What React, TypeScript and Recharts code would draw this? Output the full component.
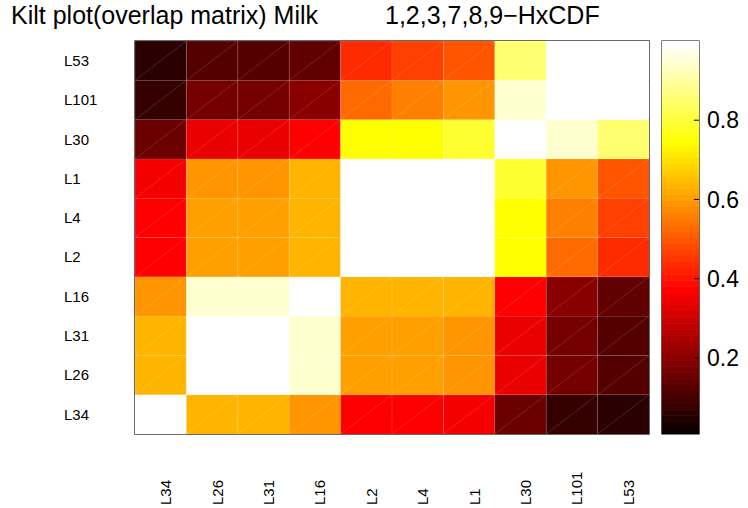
import React from 'react';
import { ScatterChart, Scatter, XAxis, YAxis, ReferenceArea } from 'recharts';

// ---------- data ----------
// labels in matrix order (columns left->right, rows bottom->top)
const matrixLabels = ['L34', 'L26', 'L31', 'L16', 'L2', 'L4', 'L1', 'L30', 'L101', 'L53'];

const rowL34 = [1.0, 0.636, 0.636, 0.589, 0.372, 0.372, 0.357, 0.155, 0.078, 0.062];
const rowL26 = [0.636, 1.0, 1.0, 0.946, 0.605, 0.605, 0.589, 0.341, 0.171, 0.124];
const rowL31 = [0.636, 1.0, 1.0, 0.946, 0.605, 0.605, 0.589, 0.341, 0.171, 0.124];
const rowL16 = [0.589, 0.946, 0.946, 1.0, 0.636, 0.636, 0.636, 0.372, 0.202, 0.14];
const rowL2 = [0.372, 0.605, 0.605, 0.636, 1.0, 1.0, 1.0, 0.744, 0.527, 0.434];
const rowL4 = [0.372, 0.605, 0.605, 0.636, 1.0, 1.0, 1.0, 0.744, 0.558, 0.465];
const rowL1 = [0.357, 0.589, 0.589, 0.636, 1.0, 1.0, 1.0, 0.791, 0.589, 0.496];
const rowL30 = [0.155, 0.341, 0.341, 0.372, 0.744, 0.744, 0.791, 1.0, 0.946, 0.853];
const rowL101 = [0.078, 0.171, 0.171, 0.202, 0.527, 0.558, 0.589, 0.946, 1.0, 1.0];
const rowL53 = [0.062, 0.124, 0.124, 0.14, 0.434, 0.465, 0.496, 0.853, 1.0, 1.0];

const overlapRows = [rowL34, rowL26, rowL31, rowL16, rowL2, rowL4, rowL1, rowL30, rowL101, rowL53];

const colorbarTicks = [0.2, 0.4, 0.6, 0.8];
const C_MIN = 0.008;
const C_MAX = 1.0;
const N_COLORS = 64;

const titleMain = 'Kilt plot(overlap matrix) Milk';
const titleSub = '1,2,3,7,8,9\u2212HxCDF';

// ---------- layout ----------
const W = 748;
const H = 508;
const PLOT_LEFT = 135;
const PLOT_RIGHT = 649;
const PLOT_TOP = 41;
const PLOT_BOTTOM = 434;
const CB_LEFT = 662;
const CB_RIGHT = 699;
const N = matrixLabels.length;
const CELL_W = (PLOT_RIGHT - PLOT_LEFT) / N;
const CELL_H = (PLOT_BOTTOM - PLOT_TOP) / N;
const BAND_H = (PLOT_BOTTOM - PLOT_TOP) / N_COLORS;
const FONT = '"Liberation Sans", Arial, Helvetica, sans-serif';

// MATLAB "hot" colormap, 64 levels
function hotIndex(v: number): number {
  const t = (v - C_MIN) / (C_MAX - C_MIN);
  return Math.min(N_COLORS, Math.max(1, Math.floor(t * N_COLORS + 1e-9) + 1));
}
function hotFromIndex(k: number): string {
  const n1 = 24, n2 = 24, n3 = 16;
  const r = Math.min(1, k / n1);
  const g = Math.min(1, Math.max(0, (k - n1) / n2));
  const b = Math.min(1, Math.max(0, (k - n1 - n2) / n3));
  const c = (x: number) => Math.round(x * 255);
  return `rgb(${c(r)},${c(g)},${c(b)})`;
}
const hotColor = (v: number) => hotFromIndex(hotIndex(v));

const cells = overlapRows.flatMap((row, i) =>
  row.map((v, j) => ({ x: j + 0.5, y: i + 0.5, v, fill: hotColor(v) }))
);
const tickPos = matrixLabels.map((_, i) => i + 0.5);

const bands = Array.from({ length: N_COLORS }, (_, i) => ({
  x: 0.5,
  v: C_MIN + ((i + 0.5) / N_COLORS) * (C_MAX - C_MIN),
  fill: hotFromIndex(i + 1),
}));

const renderCell = (p: any) => {
  const { cx, cy, payload } = p;
  const x0 = cx - CELL_W / 2;
  const y0 = cy - CELL_H / 2;
  return (
    <g>
      <rect x={x0} y={y0} width={CELL_W} height={CELL_H} fill={payload.fill} />
      <path
        d={`M${x0},${y0 + CELL_H}L${x0 + CELL_W},${y0}M${x0},${y0}H${x0 + CELL_W}M${x0},${y0}V${y0 + CELL_H}`}
        stroke="#ffffff"
        strokeOpacity={0.2}
        strokeWidth={0.7}
        fill="none"
      />
    </g>
  );
};

const renderBand = (p: any) => {
  const { cy, payload } = p;
  return (
    <rect
      x={CB_LEFT}
      y={cy - BAND_H / 2 - 0.2}
      width={CB_RIGHT - CB_LEFT}
      height={BAND_H + 0.4}
      fill={payload.fill}
      stroke={payload.fill}
      strokeWidth={0.3}
    />
  );
};

const XTick = (p: any) => {
  const { x, payload } = p;
  const label = matrixLabels[Math.floor(payload.value)];
  const bx = x + 10.5;
  const by = 505;
  return (
    <text
      x={bx}
      y={by}
      transform={`rotate(-90 ${bx} ${by})`}
      textAnchor="start"
      fontSize={15}
      fontFamily={FONT}
      fill="#000"
    >
      {label}
    </text>
  );
};

const YTick = (p: any) => {
  const { y, payload } = p;
  const label = matrixLabels[Math.floor(payload.value)];
  return (
    <text x={64} y={y} dy="0.355em" textAnchor="start" fontSize={15} fontFamily={FONT} fill="#000">
      {label}
    </text>
  );
};

const CbTick = (p: any) => {
  const { x, y, payload } = p;
  return (
    <g>
      <line x1={CB_RIGHT} x2={CB_RIGHT - 5} y1={y} y2={y} stroke="#000" strokeWidth={1} />
      <text x={x} y={y} dy="0.355em" textAnchor="start" fontSize={23} fontFamily={FONT} fill="#000">
        {payload.value}
      </text>
    </g>
  );
};

export default function App() {
  return (
    <div style={{ position: 'absolute', left: 0, top: 0, width: W, height: H, background: '#fff' }}>
      <div style={{ position: 'absolute', left: 0, top: 0 }}>
        <ScatterChart width={W} height={H} margin={{ top: PLOT_TOP, right: W - PLOT_RIGHT, bottom: 0, left: 0 }}>
          <XAxis
            type="number"
            dataKey="x"
            domain={[0, N]}
            ticks={tickPos}
            interval={0}
            height={H - PLOT_BOTTOM}
            axisLine={false}
            tickLine={false}
            tick={<XTick />}
            allowDataOverflow
          />
          <YAxis
            type="number"
            dataKey="y"
            domain={[0, N]}
            ticks={tickPos}
            interval={0}
            width={PLOT_LEFT}
            axisLine={false}
            tickLine={false}
            tick={<YTick />}
            allowDataOverflow
          />
          <Scatter data={cells} shape={renderCell} isAnimationActive={false} />
          <ReferenceArea
            x1={0}
            x2={N}
            y1={0}
            y2={N}
            fill="none"
            fillOpacity={0}
            stroke="#3a3a3a"
            strokeWidth={1.5}
            ifOverflow="visible"
          />
        </ScatterChart>
      </div>
      <div style={{ position: 'absolute', left: 0, top: 0 }}>
        <ScatterChart
          width={W}
          height={H}
          margin={{ top: PLOT_TOP, right: 0, bottom: H - PLOT_BOTTOM, left: CB_LEFT }}
        >
          <XAxis type="number" dataKey="x" domain={[0, 1]} hide />
          <YAxis
            type="number"
            dataKey="v"
            orientation="right"
            domain={[C_MIN, C_MAX]}
            ticks={colorbarTicks}
            interval={0}
            width={W - CB_RIGHT}
            axisLine={false}
            tickLine={false}
            tick={<CbTick />}
            allowDataOverflow
          />
          <Scatter data={bands} shape={renderBand} isAnimationActive={false} />
          <ReferenceArea
            x1={0}
            x2={1}
            y1={C_MIN}
            y2={C_MAX}
            fill="none"
            fillOpacity={0}
            stroke="#000"
            strokeWidth={1.2}
            ifOverflow="visible"
          />
        </ScatterChart>
      </div>
      <svg
        width={W}
        height={38}
        style={{ position: 'absolute', left: 0, top: 0 }}
      >
        <text x={11} y={24} fontSize={25} fontFamily={FONT} fill="#000">
          {titleMain}
        </text>
        <text x={385} y={24} fontSize={25} fontFamily={FONT} fill="#000">
          {titleSub}
        </text>
      </svg>
    </div>
  );
}
